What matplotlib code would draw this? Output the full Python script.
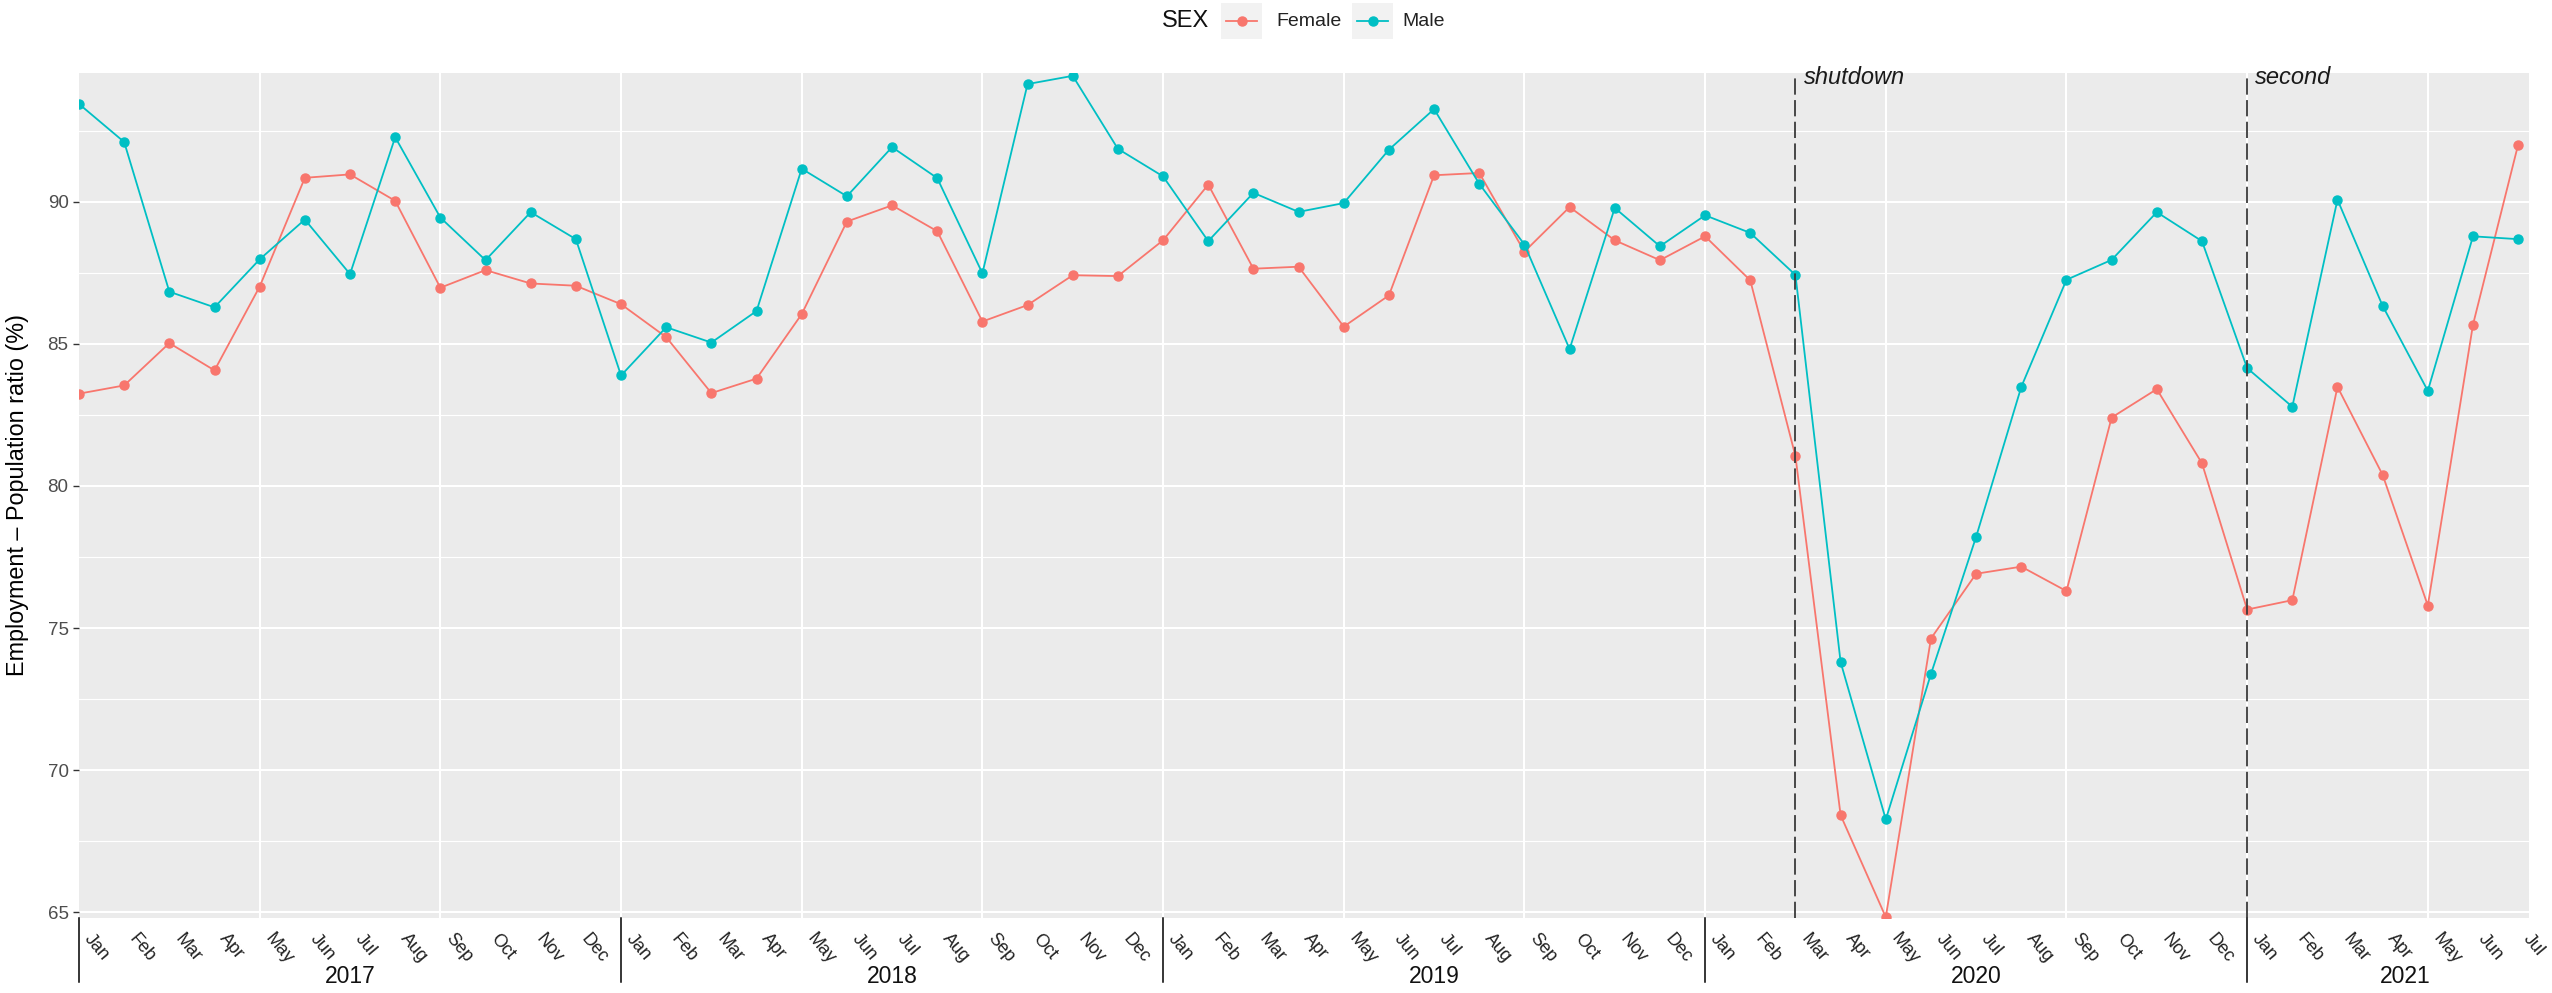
import matplotlib
matplotlib.use("Agg")
import matplotlib.pyplot as plt
import matplotlib.transforms as mtransforms
from matplotlib.lines import Line2D
from matplotlib.patches import Rectangle

plt.rcParams['font.family'] = ['Liberation Sans', 'DejaVu Sans']

# data: monthly employment-population ratio, Jan 2017 .. Jul 2021
years = ["2017", "2018", "2019", "2020", "2021"]
months = ["Jan", "Feb", "Mar", "Apr", "May", "Jun",
          "Jul", "Aug", "Sep", "Oct", "Nov", "Dec"]
month_labels = months * 4 + months[:7]

female = [83.25, 83.54, 85.03, 84.07, 87.02, 90.85, 90.97, 90.04, 86.98, 87.60, 87.13, 87.05,
          86.40, 85.24, 83.27, 83.78, 86.05, 89.31, 89.88, 88.97, 85.79, 86.37, 87.42, 87.39,
          88.65, 90.61, 87.65, 87.72, 85.61, 86.71, 90.94, 91.02, 88.25, 89.82, 88.65, 87.95,
          88.79, 87.24, 81.05, 68.41, 64.82, 74.63, 76.91, 77.16, 76.30, 82.41, 83.41, 80.80,
          75.65, 75.98, 83.49, 80.39, 75.79, 85.68, 92.02]
male = [93.45, 92.11, 86.84, 86.29, 87.98, 89.38, 87.46, 92.28, 89.45, 87.95, 89.64, 88.69,
        83.89, 85.59, 85.05, 86.16, 91.17, 90.20, 91.93, 90.84, 87.49, 94.15, 94.44, 91.87,
        90.90, 88.62, 90.32, 89.65, 89.96, 91.84, 93.27, 90.64, 88.50, 84.82, 89.79, 88.44,
        89.53, 88.91, 87.43, 73.80, 68.26, 73.38, 78.21, 83.49, 87.26, 87.96, 89.64, 88.62,
        84.15, 82.79, 90.08, 86.34, 83.35, 88.79, 88.69]

events = ["shutdown", "second"]
event_idx = [38, 48]   # Mar 2020, Jan 2021

FEMALE_C = "#F8766D"
MALE_C = "#00BFC4"

W, H = 2552, 993
fig = plt.figure(figsize=(W / 100, H / 100), dpi=100)

def fx(x):
    return x / W

def fy(y):
    return 1 - y / H

# panel placement (pixels in the reference)
pl, pr, pt, pb = 79, 2529, 73, 918
ax = fig.add_axes([fx(pl), fy(pb), (pr - pl) / W, (pb - pt) / H])
ax.set_facecolor("#EBEBEB")
for s in ax.spines.values():
    s.set_visible(False)

x = list(range(len(female)))
ax.set_xlim(0, 54.24)
ax.set_ylim(64.79, 94.54)

# grid
ax.set_yticks([65, 70, 75, 80, 85, 90])
ax.set_yticks([67.5, 72.5, 77.5, 82.5, 87.5, 92.5], minor=True)
ax.set_xticks(list(range(4, 55, 4)))
ax.set_xticklabels([])
ax.grid(which="major", color="white", lw=1.5)
ax.grid(which="minor", axis="y", color="white", lw=0.8)
ax.set_axisbelow(True)
ax.tick_params(axis="x", length=0)
ax.tick_params(axis="y", which="major", length=4.5, width=1.0, color="#333333",
               labelsize=13.5, labelcolor="#4D4D4D", pad=3)
ax.tick_params(axis="y", which="minor", length=0)

ax.plot(x, female, color=FEMALE_C, lw=1.3, marker="o", ms=6.5, zorder=3)
ax.plot(x, male, color=MALE_C, lw=1.3, marker="o", ms=6.5, zorder=3)

trans = mtransforms.blended_transform_factory(ax.transData, ax.transAxes)
for name, i in zip(events, event_idx):
    ax.axvline(i, color="#3A3A3A", lw=1.3, ls=(0, (9, 3)), zorder=4)
    ax.text(i + 0.18, 0.9864, name, transform=trans, style="italic", fontsize=17,
            color="#1A1A1A", ha="left", va="baseline", clip_on=False)

# month labels
for i, lab in enumerate(month_labels):
    ax.text(i + 0.18, -0.021, lab, transform=trans, rotation=-50, rotation_mode="anchor",
            ha="left", va="center", fontsize=13, color="#222222", clip_on=False)

# year separators and labels
for k, yr in enumerate(years):
    start = 12 * k
    end = min(start + 12, len(female))
    ax.plot([start, start], [0, -0.0757], transform=trans, color="black", lw=1.1,
            clip_on=False)
    ax.text((start + end) / 2, -0.0695, yr, transform=trans, ha="center", va="center",
            fontsize=16.5, color="#111111", clip_on=False)

ax.set_ylabel("Employment \u2013 Population ratio (%)", fontsize=16.8, color="black",
              labelpad=6)
ax.yaxis.set_label_coords(-0.0205, 0.5)

# legend on top
ly = fy(21)
fig.text(fx(1162), ly, "SEX", fontsize=17, ha="left", va="center", color="#111111")
for kx, tx, col, lab in [(1221, 1276, FEMALE_C, "Female"), (1352, 1402, MALE_C, "Male")]:
    fig.add_artist(Rectangle((fx(kx), fy(39)), 41 / W, 36 / H, transform=fig.transFigure,
                             facecolor="#F2F2F2", edgecolor="none"))
    fig.add_artist(Line2D([fx(kx + 5), fx(kx + 36)], [ly, ly], transform=fig.transFigure,
                          color=col, lw=1.3))
    fig.add_artist(Line2D([fx(kx + 20.5)], [ly], transform=fig.transFigure, color=col,
                          marker="o", ms=6.5))
    fig.text(fx(tx), ly, lab, fontsize=14, ha="left", va="center", color="#222222")

fig.savefig("out.png", dpi=100)
